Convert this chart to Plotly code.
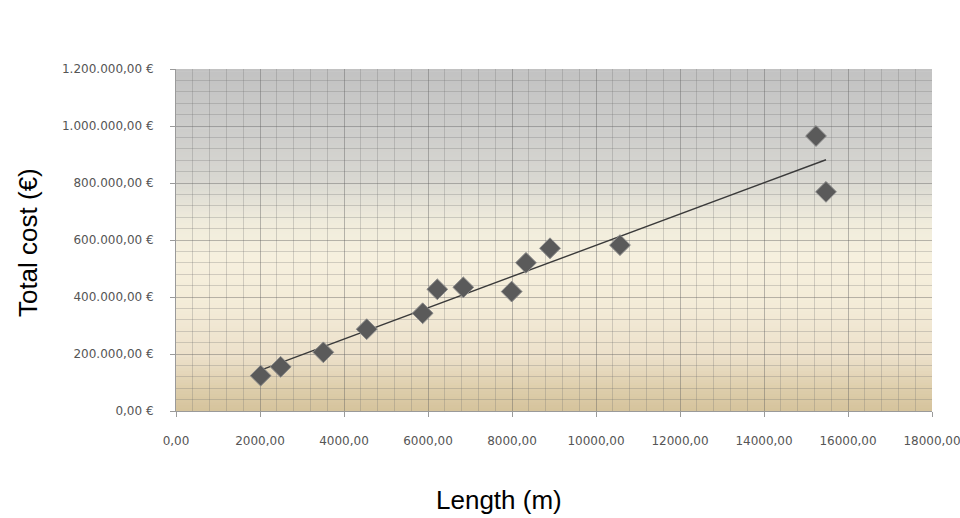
import numpy as np
import plotly.graph_objects as go

# ---- data ----
length_m = [2016, 2492, 3508, 4540, 5873, 6222, 6841, 7992, 8333, 8905, 10571, 15238, 15476]
total_cost = [124000, 155000, 206000, 287000, 343000, 427000, 434000, 419000, 520000,
              571000, 582000, 965000, 769000]

x_title = "Length (m)"
y_title = "Total cost (€)"

# linear trend line (as in the spreadsheet chart)
slope, intercept = np.polyfit(length_m, total_cost, 1)
trend_x = [min(length_m), max(length_m)]
trend_y = [slope * v + intercept for v in trend_x]

fig = go.Figure()
fig.add_trace(go.Scatter(x=trend_x, y=trend_y, mode="lines",
                         line=dict(color="#3a3a3a", width=1.4), hoverinfo="skip",
                         showlegend=False))
fig.add_trace(go.Scatter(x=length_m, y=total_cost, mode="markers",
                         marker=dict(symbol="diamond", size=16, color="#5a5a5a",
                                     line=dict(color="#8a8a8a", width=1)),
                         showlegend=False))

# background gradient (grey top -> cream -> tan bottom)
stops = [(0.00, (214, 195, 156)), (0.06, (221, 205, 170)), (0.16, (236, 224, 202)),
         (0.30, (243, 235, 215)), (0.45, (246, 240, 222)), (0.55, (240, 236, 220)),
         (0.68, (216, 215, 209)), (0.82, (205, 205, 203)), (1.00, (194, 194, 194))]
def col_at(f):
    for (f0, c0), (f1, c1) in zip(stops[:-1], stops[1:]):
        if f0 <= f <= f1:
            t = (f - f0) / (f1 - f0)
            return "rgb(%d,%d,%d)" % tuple(round(a + (b - a) * t) for a, b in zip(c0, c1))
    return "rgb(%d,%d,%d)" % stops[-1][1]

n = 120
shapes = []
for i in range(n):
    y0 = i / n
    y1 = (i + 1) / n + 0.002
    shapes.append(dict(type="rect", xref="x domain", yref="y domain", x0=0, x1=1,
                       y0=y0, y1=min(y1, 1), fillcolor=col_at((i + 0.5) / n),
                       line=dict(width=0), layer="below"))

tick_font = dict(family="DejaVu Sans", size=12, color="#555555")

fig.update_layout(
    width=960, height=518,
    margin=dict(l=176, r=28, t=69, b=107, autoexpand=False),
    paper_bgcolor="white",
    plot_bgcolor="rgba(0,0,0,0)",
    separators=",.",
    shapes=shapes,
    xaxis=dict(range=[0, 18000], dtick=2000, tick0=0, tickformat=".2f",
               showgrid=True, gridcolor="rgba(95,95,95,0.42)", gridwidth=1,
               minor=dict(dtick=400, tick0=0, showgrid=True,
                          gridcolor="rgba(110,110,110,0.28)", gridwidth=1),
               showline=True, linecolor="#9a9a9a", linewidth=1,
               ticks="outside", ticklen=5, tickcolor="#9a9a9a",
               tickfont=tick_font, ticklabelstandoff=14, zeroline=False,
               ticklabeloverflow="allow", automargin=False),
    yaxis=dict(range=[0, 1200000], dtick=200000, tick0=0, tickformat=",.2f",
               ticksuffix=" €",
               showgrid=True, gridcolor="rgba(95,95,95,0.42)", gridwidth=1,
               minor=dict(dtick=40000, tick0=0, showgrid=True,
                          gridcolor="rgba(110,110,110,0.28)", gridwidth=1),
               showline=True, linecolor="#9a9a9a", linewidth=1,
               ticks="outside", ticklen=5, tickcolor="#9a9a9a",
               tickfont=tick_font, ticklabelstandoff=14, zeroline=False,
               ticklabeloverflow="allow", automargin=False),
    annotations=[
        dict(text=y_title, xref="paper", yref="paper", x=0, y=0.491, xshift=-148,
             xanchor="center", yanchor="middle", textangle=-90, showarrow=False,
             font=dict(family="Liberation Sans", size=26, color="black")),
        dict(text=x_title, xref="paper", yref="paper", x=0.427, y=0, yshift=-89,
             xanchor="center", yanchor="middle", showarrow=False,
             font=dict(family="Liberation Sans", size=26, color="black")),
    ],
)

fig.write_html("out.html", config={"displayModeBar": False},
               post_script="document.body.style.margin='0';document.body.style.overflow='hidden';")
